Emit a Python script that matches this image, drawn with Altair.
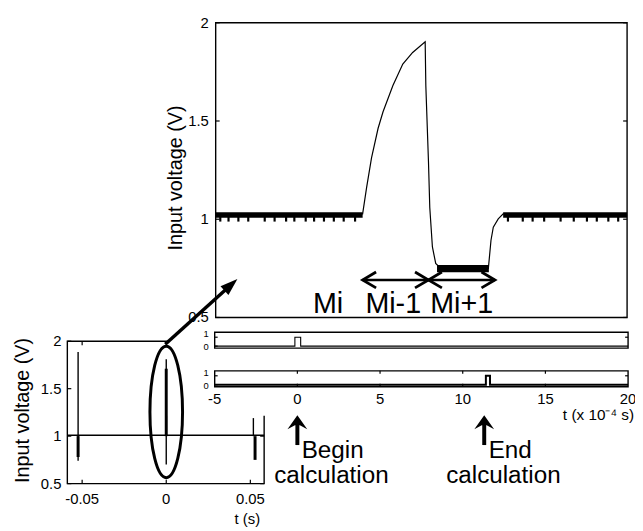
import altair as alt
import pandas as pd

FONT = "Liberation Sans"

# ---------------- main panel: input voltage (V) vs t (x 1e-4 s) ----------------
curve_t = [-5.0, 3.93, 4.17, 4.47, 4.87, 5.17, 5.77, 6.37, 6.97, 7.73, 7.77, 7.93, 8.01,
           8.17, 8.37, 8.57, 11.57, 11.73, 11.87, 12.17, 12.47, 20.0]
curve_v = [1.022, 1.027, 1.161, 1.312, 1.463, 1.547, 1.681, 1.790, 1.849, 1.903, 1.68, 1.295, 1.06,
           0.859, 0.775, 0.758, 0.75, 0.893, 0.96, 1.002, 1.027, 1.022]
# noisy plateaus (quantisation band)
band_t0 = [-5.0, 12.47, 8.45]
band_t1 = [3.93, 20.0, 11.6]
band_lo = [1.008, 1.008, 0.73]
band_hi = [1.035, 1.035, 0.767]
dip_t = [-4.72, -4.22, -3.62, -3.02, -2.02, -1.42, -0.72, -0.22, 0.47, 0.98, 1.58, 2.18, 2.78, 3.47,
         12.76, 13.66, 14.26, 14.96, 15.96, 16.76, 17.56, 18.16, 18.86, 19.46]
dip_lo = [0.988] * len(dip_t)
dip_hi = [1.012] * len(dip_t)
main_yticks = [0.5, 1.0, 1.5, 2.0]
main_ylabels = ["0.5", "1", "1.5", "2"]
# interval arrows
arr_t0 = [3.93, 7.93]
arr_t1 = [7.93, 11.97]
arr_v = 0.691
seg_labels = ["Mi", "Mi-1", "Mi+1"]
seg_label_t = [1.83, 5.79, 9.95]
seg_label_v = 0.525

# ---------------- strips: begin / end calculation flags ----------------
s1_t = [-5.0, -0.15, -0.15, 0.2, 0.2, 20.0]
s1_v = [0, 0, 1, 1, 0, 0]
s2_t = [-5.0, 11.4, 11.4, 11.65, 11.65, 20.0]
s2_v = [0, 0, 1, 1, 0, 0]
strip_xticks = [-5, 0, 5, 10, 15, 20]
strip_xlabels = ["-5", "0", "5", "10", "15", "20"]
strip_yticks = [0, 1]
strip_ylabels = ["0", "1"]

# ---------------- inset: whole record, t (s) ----------------
inset_line_t = [-0.0588, 0.0582]
inset_line_v = [1.01, 1.01]
thin_t = [-0.0524, 0.0, 0.0518]
thin_lo = [0.74, 0.70, 1.0]
thin_hi = [1.885, 1.81, 1.19]
thick_t = [-0.0524, 0.0, 0.0528]
thick_lo = [0.78, 1.0, 0.75]
thick_hi = [1.0, 1.71, 1.0]
inset_xticks = [-0.05, 0.0, 0.05]
inset_xlabels = ["-0.05", "0", "0.05"]
inset_yticks = [0.5, 1.0, 1.5, 2.0]
inset_ylabels = ["0.5", "1", "1.5", "2"]


def sc(domain, rng):
    return alt.Scale(domain=domain, range=rng, zero=False, nice=False)


XM = sc([-5, 20], [210, 626])
YM = sc([0.5, 2], [310, 12])
XS = sc([-5, 20], [209, 627])
YS1 = sc([-0.22, 1.55], [341, 325])
YS2 = sc([-0.22, 1.55], [380, 364])
XI = sc([-0.0588, 0.0582], [60, 259])
YI = sc([0.5, 2], [478, 334])


def q(field, scale, ch):
    return ch(f"{field}:Q", scale=scale, axis=None)


def frame(x0, x1, y0, y1, xs, ys, fill=None, sw=1.4):
    df = pd.DataFrame({"a": [x0], "b": [x1], "c": [y0], "d": [y1]})
    kw = dict(stroke="black", strokeWidth=sw)
    if fill:
        kw["fill"] = fill
    else:
        kw["fillOpacity"] = 0
    return alt.Chart(df).mark_rect(**kw).encode(
        x=q("a", xs, alt.X), x2="b", y=q("c", ys, alt.Y), y2="d")


def ticks(xvals, yvals, xs, ys, shape, size=64, sw=1.2):
    df = pd.DataFrame({"x": xvals, "y": yvals})
    return alt.Chart(df).mark_point(shape=shape, size=size, filled=False, color="black",
                                    strokeWidth=sw, opacity=1).encode(
        x=q("x", xs, alt.X), y=q("y", ys, alt.Y))


def labels(xvals, yvals, texts, xs, ys, size=15, align="center", baseline="middle", dx=0, dy=0):
    df = pd.DataFrame({"x": xvals, "y": yvals, "s": texts})
    return alt.Chart(df).mark_text(font=FONT, fontSize=size, align=align, baseline=baseline,
                                   dx=dx, dy=dy, color="black").encode(
        x=q("x", xs, alt.X), y=q("y", ys, alt.Y), text="s:N")


def vrules(tv, lo, hi, xs, ys, sw):
    df = pd.DataFrame({"t": tv, "lo": lo, "hi": hi})
    return alt.Chart(df).mark_rule(color="black", strokeWidth=sw).encode(
        x=q("t", xs, alt.X), y=q("lo", ys, alt.Y), y2="hi")


def line(tv, vv, xs, ys, sw=1.1):
    df = pd.DataFrame({"t": tv, "v": vv, "o": list(range(len(tv)))})
    return alt.Chart(df).mark_line(color="black", strokeWidth=sw, strokeJoin="miter").encode(
        x=q("t", xs, alt.X), y=q("v", ys, alt.Y), order="o:Q")


def free_text(txt, x, y, size, angle=0, align="center", baseline="middle"):
    df = pd.DataFrame({"s": [txt]})
    return alt.Chart(df).mark_text(font=FONT, fontSize=size, angle=angle, align=align,
                                   baseline=baseline, color="black").encode(
        x=alt.value(x), y=alt.value(y), text="s:N")


layers = []

# ---------- inset ----------
layers.append(frame(inset_line_t[0], inset_line_t[1], 0.5, 2.0, XI, YI, sw=1.4))
layers.append(line(inset_line_t, inset_line_v, XI, YI, sw=1.4))
layers.append(vrules(thin_t, thin_lo, thin_hi, XI, YI, 1.4))
layers.append(vrules(thick_t, thick_lo, thick_hi, XI, YI, 3))
layers.append(ticks(inset_xticks, [0.5] * 3, XI, YI, "M0,0L0,-1"))
layers.append(ticks(inset_xticks, [2.0] * 3, XI, YI, "M0,0L0,1"))
layers.append(ticks([inset_line_t[0]] * 4, inset_yticks, XI, YI, "M0,0L1,0"))
layers.append(ticks([inset_line_t[1]] * 4, inset_yticks, XI, YI, "M0,0L-1,0"))
layers.append(labels(inset_xticks, [0.5] * 3, inset_xlabels, XI, YI, size=15, dy=16))
layers.append(labels([inset_line_t[0]] * 4, inset_yticks, inset_ylabels, XI, YI, size=15,
                     align="right", dx=-6))
layers.append(free_text("Input voltage (V)", 15, 404, 20, angle=270))
layers.append(free_text("t (s)", 242, 514, 15))

# ---------- white background of the zoomed figure ----------
layers.append(frame(-7.9, 21.5, 0.0, 2.2, XM, YM, fill="white", sw=0))

# ---------- main panel ----------
layers.append(frame(-5, 20, 0.5, 2.0, XM, YM, sw=1.4))
bdf = pd.DataFrame({"a": band_t0, "b": band_t1, "c": band_lo, "d": band_hi})
layers.append(alt.Chart(bdf).mark_rect(color="black").encode(
    x=q("a", XM, alt.X), x2="b", y=q("c", YM, alt.Y), y2="d"))
layers.append(vrules(dip_t, dip_lo, dip_hi, XM, YM, 2.2))
layers.append(line(curve_t, curve_v, XM, YM, sw=1.2))
layers.append(ticks([-5] * 4, main_yticks, XM, YM, "M0,0L1,0"))
layers.append(ticks([20] * 4, main_yticks, XM, YM, "M0,0L-1,0"))
layers.append(labels([-5] * 4, main_yticks, main_ylabels, XM, YM, size=15, align="right", dx=-7))
layers.append(free_text("Input voltage (V)", 170, 169, 20, angle=270))
adf = pd.DataFrame({"a": arr_t0, "b": arr_t1, "v": [arr_v] * 2})
layers.append(alt.Chart(adf).mark_rule(color="black", strokeWidth=2.6).encode(
    x=q("a", XM, alt.X), x2="b", y=q("v", YM, alt.Y)))
layers.append(ticks(arr_t0, [arr_v] * 2, XM, YM, "M1.7,-1L0,0L1.7,1", size=256, sw=2.8))
layers.append(ticks(arr_t1, [arr_v] * 2, XM, YM, "M-1.7,-1L0,0L-1.7,1", size=256, sw=2.8))
layers.append(labels(seg_label_t, [seg_label_v] * 3, seg_labels, XM, YM, size=29,
                     baseline="alphabetic"))

# ---------- strips ----------
for ys, st, sv, sw in [(YS1, s1_t, s1_v, 1.1), (YS2, s2_t, s2_v, 2.0)]:
    layers.append(frame(-5, 20, -0.22, 1.55, XS, ys, fill="white", sw=1.4))
    layers.append(line(st, sv, XS, ys, sw=sw))
    layers.append(ticks([-5] * 2, strip_yticks, XS, ys, "M0,0L1,0", size=36))
    layers.append(ticks([20], [1], XS, ys, "M0,0L-1,0", size=36))
    layers.append(labels([-5], [strip_yticks[1]], [strip_ylabels[1]], XS, ys, size=9.5,
                         align="right", dx=-6, dy=-3))
    layers.append(labels([-5], [strip_yticks[0]], [strip_ylabels[0]], XS, ys, size=9.5,
                         align="right", dx=-6, dy=1))
layers.append(ticks(strip_xticks[1:-1], [-0.22] * 4, XS, YS2, "M0,0L0,-1", size=36))
layers.append(ticks(strip_xticks[1:-1], [1.55] * 4, XS, YS2, "M0,0L0,1", size=36))
layers.append(labels(strip_xticks, [-0.22] * 6, strip_xlabels, XS, YS2, size=15, dy=13))
layers.append(free_text("t (x 10\u207b\u2074 s)", 633, 409, 15.5, align="right"))

# ---------- ellipse and link arrow ----------
edf = pd.DataFrame({"t": [0.0], "v": [1.255]})
layers.append(alt.Chart(edf).mark_point(
    shape="M0,-1A0.248,1,0,1,1,0,1A0.248,1,0,1,1,0,-1Z", size=17689, filled=False,
    color="black", strokeWidth=3, opacity=1).encode(x=q("t", XI, alt.X), y=q("v", YI, alt.Y)))
ldf = pd.DataFrame({"a": [-8.065], "b": [-4.03], "c": [0.364], "d": [0.669]})
layers.append(alt.Chart(ldf).mark_rule(color="black", strokeWidth=3.5).encode(
    x=q("a", XM, alt.X), x2="b", y=q("c", YM, alt.Y), y2="d"))
hdf = pd.DataFrame({"t": [-3.68], "v": [0.696]})
layers.append(alt.Chart(hdf).mark_point(
    shape="M0,0L-0.75,2.2L0.75,2.2Z", size=256, filled=True, angle=48,
    color="black", opacity=1).encode(x=q("t", XM, alt.X), y=q("v", YM, alt.Y)))

# ---------- begin / end annotations ----------
ann_t = [0.0, 11.3]
for t in ann_t:
    d = pd.DataFrame({"t": [t]})
    layers.append(alt.Chart(d).mark_rule(color="black", strokeWidth=4).encode(
        x=q("t", XS, alt.X), y=alt.value(418), y2=alt.value(439)))
    layers.append(alt.Chart(d).mark_point(
        shape="M0,0L1,1.4L0.25,1.0L-0.25,1.0L-1,1.4Z", size=400, filled=True,
        color="black", opacity=1).encode(x=q("t", XS, alt.X), y=alt.value(409)))

word_t = [0.26, 11.57]
word_s = ["Begin", "End"]
calc_t = [2.06, 12.46]
d1 = pd.DataFrame({"t": word_t, "s": word_s})
layers.append(alt.Chart(d1).mark_text(font=FONT, fontSize=24.5, align="left", baseline="alphabetic",
                                      color="black").encode(
    x=q("t", XS, alt.X), y=alt.value(452), text="s:N"))
d2 = pd.DataFrame({"t": calc_t, "s": ["calculation"] * 2})
layers.append(alt.Chart(d2).mark_text(font=FONT, fontSize=24.5, align="center", baseline="alphabetic",
                                      color="black").encode(
    x=q("t", XS, alt.X), y=alt.value(477), text="s:N"))

chart = alt.layer(*layers).resolve_scale(x="independent", y="independent").properties(
    width=634, height=523, padding=0, autosize=alt.AutoSizeParams(type="none"),
    background="white"
).configure_view(strokeWidth=0)

chart.save("out.html", embed_options={"renderer": "svg", "actions": False})
